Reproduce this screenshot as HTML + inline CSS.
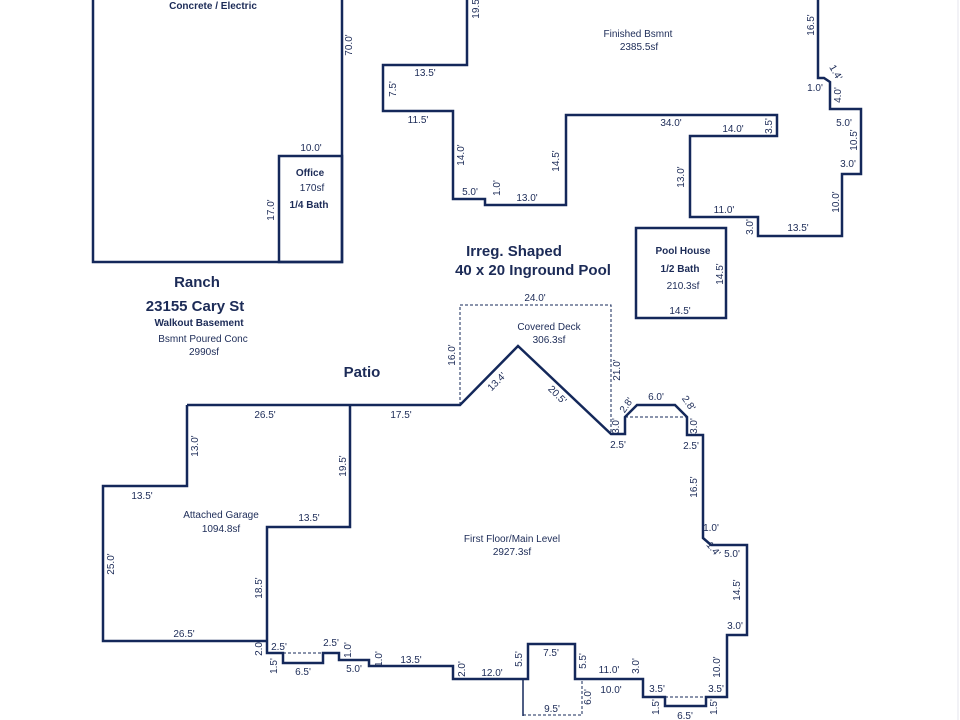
<!DOCTYPE html>
<html><head><meta charset="utf-8"><style>
html,body{margin:0;padding:0;background:#fff;}
svg{display:block;}
text{font-family:"Liberation Sans",Arial,sans-serif;fill:#1c2b57;font-size:10px;}
.b{font-weight:bold;}
.h{font-weight:bold;font-size:15px;}
.m{text-anchor:middle;}
</style></head><body>
<svg width="960" height="720" viewBox="0 0 960 720" xmlns="http://www.w3.org/2000/svg">
<line x1="958" y1="0" x2="958" y2="720" stroke="#e4e6ee" stroke-width="1"/>
<g fill="none" stroke="#14285a" stroke-width="2.5" stroke-linejoin="miter">
<polyline points="93,0 93,262 342,262 342,0"/>
<rect x="279" y="156" width="63" height="106"/>
<polyline points="467,0 467,65 383,65 383,111 453,111 453,199 485,199 485,205 566,205 566,115 777,115 777,136 690,136 690,217 758,217 758,236 842,236 842,174 861,174 861,109 830,109 830,82 824,78 818,78 818,0"/>
<rect x="636" y="228" width="90" height="90"/>
<polyline points="187,405 460,405 518,346 611,434 625,434 625,417 637,405 675,405 687,417 687,435 703,435 703,538 711,545 747,545 747,635 727,635 727,697 706,697 706,706 665,706 665,697 643,697 643,679 575,679 575,644 528,644 528,679 453,679 453,666 369,666 369,660 339,660 339,653 323,653 323,663 283,663 283,653 267,653 267,527 350,527 350,405"/>
<polyline points="187,405 187,486 103,486 103,641 267,641"/>
<line x1="523" y1="679" x2="523" y2="716" stroke-width="1.5"/>
</g>
<g fill="none" stroke="#14285a" stroke-width="1" stroke-dasharray="3,2">
<polyline points="460,405 460,305 611,305 611,434"/>
<line x1="625" y1="417" x2="687" y2="417"/>
<line x1="283" y1="653" x2="323" y2="653"/>
<line x1="665" y1="697" x2="706" y2="697"/>
<polyline points="523,715 582,715 582,679"/>
</g>

<text class="b m" x="213" y="9">Concrete / Electric</text>
<text transform="translate(352,45) rotate(-90)" class="m">70.0'</text>
<text class="m" x="311" y="151">10.0'</text>
<text class="b m" x="310" y="176">Office</text>
<text class="m" x="312" y="191">170sf</text>
<text class="b m" x="309" y="208">1/4 Bath</text>
<text transform="translate(274,210) rotate(-90)" class="m">17.0'</text>
<text class="h m" x="197" y="287">Ranch</text>
<text class="h m" x="195" y="311">23155 Cary St</text>
<text class="b m" x="199" y="326">Walkout Basement</text>
<text class="m" x="203" y="342">Bsmnt Poured Conc</text>
<text class="m" x="204" y="355">2990sf</text>
<text class="h m" x="362" y="377">Patio</text>

<text transform="translate(479,8) rotate(-90)" class="m">19.5'</text>
<text class="m" x="425" y="76">13.5'</text>
<text transform="translate(396,89) rotate(-90)" class="m">7.5'</text>
<text class="m" x="418" y="123">11.5'</text>
<text transform="translate(464,155) rotate(-90)" class="m">14.0'</text>
<text class="m" x="470" y="195">5.0'</text>
<text transform="translate(500,188) rotate(-90)" class="m">1.0'</text>
<text class="m" x="527" y="201">13.0'</text>
<text transform="translate(559,161) rotate(-90)" class="m">14.5'</text>
<text class="m" x="638" y="37">Finished Bsmnt</text>
<text class="m" x="639" y="50">2385.5sf</text>
<text class="m" x="671" y="126">34.0'</text>
<text class="m" x="733" y="132">14.0'</text>
<text transform="translate(772,126) rotate(-90)" class="m">3.5'</text>
<text transform="translate(684,177) rotate(-90)" class="m">13.0'</text>
<text class="m" x="724" y="213">11.0'</text>
<text transform="translate(753,227) rotate(-90)" class="m">3.0'</text>
<text class="m" x="798" y="231">13.5'</text>
<text transform="translate(839,202) rotate(-90)" class="m">10.0'</text>
<text class="m" x="848" y="167">3.0'</text>
<text transform="translate(857,140) rotate(-90)" class="m">10.5'</text>
<text class="m" x="844" y="126">5.0'</text>
<text transform="translate(841,95) rotate(-90)" class="m">4.0'</text>
<text class="m" x="815" y="91">1.0'</text>
<text transform="translate(833,74) rotate(60)" class="m">1.4'</text>
<text transform="translate(814,25) rotate(-90)" class="m">16.5'</text>

<text class="h m" x="514" y="256">Irreg. Shaped</text>
<text class="h m" x="533" y="275">40 x 20 Inground Pool</text>
<text class="b m" x="683" y="254">Pool House</text>
<text class="b m" x="680" y="272">1/2 Bath</text>
<text class="m" x="683" y="289">210.3sf</text>
<text transform="translate(723,274) rotate(-90)" class="m">14.5'</text>
<text class="m" x="680" y="314">14.5'</text>

<text class="m" x="535" y="301">24.0'</text>
<text class="m" x="549" y="330">Covered Deck</text>
<text class="m" x="549" y="343">306.3sf</text>
<text transform="translate(455,355) rotate(-90)" class="m">16.0'</text>
<text transform="translate(620,370) rotate(-90)" class="m">21.0'</text>
<text transform="translate(499,384) rotate(-45)" class="m">13.4'</text>
<text transform="translate(555,397) rotate(45)" class="m">20.5'</text>
<text transform="translate(619,426) rotate(-90)" class="m">3.0'</text>
<text class="m" x="618" y="448">2.5'</text>
<text transform="translate(629,407) rotate(-55)" class="m">2.8'</text>
<text class="m" x="656" y="400">6.0'</text>
<text transform="translate(686,405) rotate(55)" class="m">2.8'</text>
<text transform="translate(697,426) rotate(-90)" class="m">3.0'</text>
<text class="m" x="691" y="449">2.5'</text>

<text transform="translate(697,487) rotate(-90)" class="m">16.5'</text>
<text class="m" x="711" y="531">1.0'</text>
<text transform="translate(711,551) rotate(50)" class="m">1.4'</text>
<text class="m" x="732" y="557">5.0'</text>
<text transform="translate(740,590) rotate(-90)" class="m">14.5'</text>
<text class="m" x="735" y="629">3.0'</text>
<text transform="translate(720,667) rotate(-90)" class="m">10.0'</text>
<text class="m" x="716" y="692">3.5'</text>
<text transform="translate(717,707) rotate(-90)" class="m">1.5'</text>
<text class="m" x="685" y="719">6.5'</text>
<text transform="translate(659,707) rotate(-90)" class="m">1.5'</text>
<text class="m" x="657" y="692">3.5'</text>
<text transform="translate(639,666) rotate(-90)" class="m">3.0'</text>
<text class="m" x="611" y="693">10.0'</text>
<text class="m" x="609" y="673">11.0'</text>
<text transform="translate(591,697) rotate(-90)" class="m">6.0'</text>
<text class="m" x="552" y="712">9.5'</text>
<text transform="translate(586,661) rotate(-90)" class="m">5.5'</text>
<text class="m" x="551" y="656">7.5'</text>
<text transform="translate(522,659) rotate(-90)" class="m">5.5'</text>
<text class="m" x="492" y="676">12.0'</text>
<text transform="translate(465,669) rotate(-90)" class="m">2.0'</text>
<text class="m" x="411" y="663">13.5'</text>
<text transform="translate(382,659) rotate(-90)" class="m">1.0'</text>
<text class="m" x="354" y="672">5.0'</text>
<text transform="translate(351,650) rotate(-90)" class="m">1.0'</text>
<text class="m" x="331" y="646">2.5'</text>
<text class="m" x="303" y="675">6.5'</text>
<text transform="translate(277,666) rotate(-90)" class="m">1.5'</text>
<text class="m" x="279" y="650">2.5'</text>
<text transform="translate(262,648) rotate(-90)" class="m">2.0'</text>
<text class="m" x="512" y="542">First Floor/Main Level</text>
<text class="m" x="512" y="555">2927.3sf</text>

<text class="m" x="265" y="418">26.5'</text>
<text class="m" x="401" y="418">17.5'</text>
<text transform="translate(198,446) rotate(-90)" class="m">13.0'</text>
<text transform="translate(346,466) rotate(-90)" class="m">19.5'</text>
<text class="m" x="142" y="499">13.5'</text>
<text class="m" x="309" y="521">13.5'</text>
<text class="m" x="221" y="518">Attached Garage</text>
<text class="m" x="221" y="532">1094.8sf</text>
<text transform="translate(114,564) rotate(-90)" class="m">25.0'</text>
<text transform="translate(262,588) rotate(-90)" class="m">18.5'</text>
<text class="m" x="184" y="637">26.5'</text>
</svg>
</body></html>
